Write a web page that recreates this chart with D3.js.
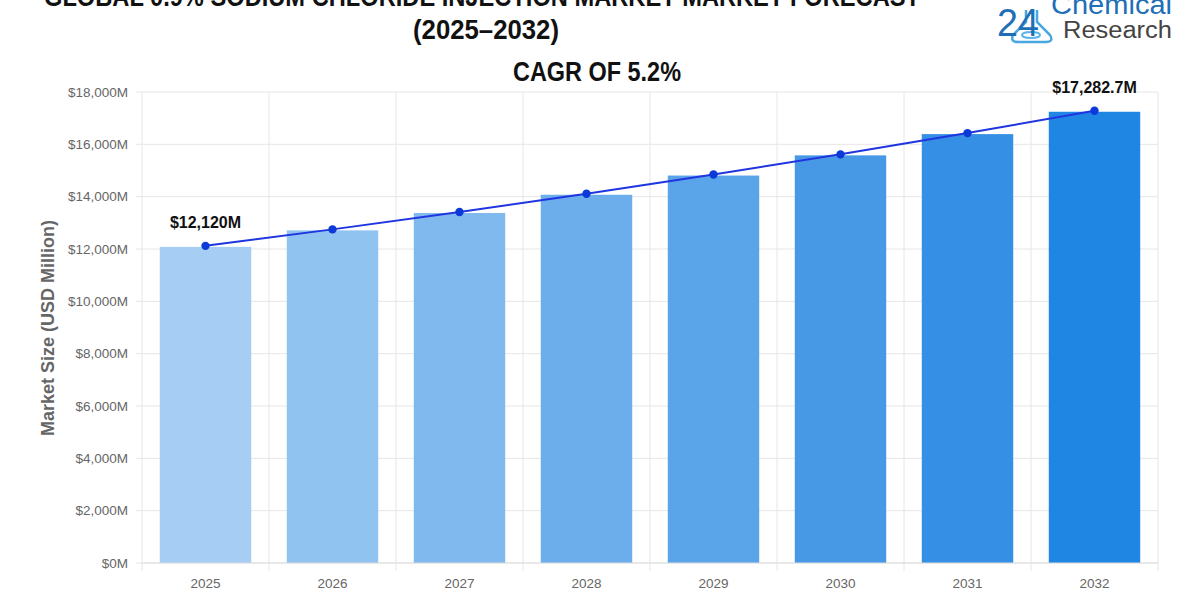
<!DOCTYPE html>
<html><head><meta charset="utf-8">
<script src="https://cdn.jsdelivr.net/npm/d3@7"></script>
<style>
body{margin:0;background:#fff;}
svg{display:block;font-family:"Liberation Sans",Arial,sans-serif;}
</style></head>
<body><svg id="c" width="1200" height="600"></svg>
<script>
const years = ["2025","2026","2027","2028","2029","2030","2031","2032"];
const values = [12120, 12750, 13413, 14111, 14845, 15617, 16429, 17282.7];
const barColors = ["#a6cef4","#91c3f1","#7fb9ee","#6caeeb","#5aa4e9","#4799e6","#358fe4","#1f86e4"];
const yTicks = [0,2000,4000,6000,8000,10000,12000,14000,16000,18000];
const labels = [{i:0,text:"$12,120M"},{i:7,text:"$17,282.7M"}];
const titleLines = ["GLOBAL 0.9% SODIUM CHLORIDE INJECTION MARKET MARKET FORECAST","(2025\u20132032)"];
const subtitle = "CAGR OF 5.2%";
const yLabel = "Market Size (USD Million)";

const svg = d3.select("#c");
const L=142,R=1158,T=92,B=563;
const x = d3.scaleBand().domain(years).range([L,R]).padding(0);
const y = d3.scaleLinear().domain([0,18000]).range([B,T]);

function title(txt, cx, by, w){
  svg.append("text").attr("x",cx-w/2).attr("y",by)
    .attr("font-size",27).attr("font-weight","bold").attr("fill","#111")
    .attr("textLength",w).attr("lengthAdjust","spacingAndGlyphs").text(txt);
}
title(titleLines[0],482,6,876);
title(titleLines[1],486,39,146);
title(subtitle,597,81,168);

// grid horizontal
svg.append("g").selectAll("line").data(yTicks).join("line")
  .attr("x1",L-6).attr("x2",R).attr("y1",d=>y(d)).attr("y2",d=>y(d))
  .attr("stroke","#e6e6e6").attr("stroke-width",1);
// grid vertical at band boundaries
const bounds = years.map(d=>x(d)).concat([R]);
svg.append("g").selectAll("line").data(bounds).join("line")
  .attr("x1",d=>d).attr("x2",d=>d).attr("y1",T).attr("y2",B+8)
  .attr("stroke","#e6e6e6").attr("stroke-width",1);

// y axis labels
const yAxis = d3.axisLeft(y).tickValues(yTicks).tickSize(0).tickPadding(0)
  .tickFormat(d=>"$"+d3.format(",")(d)+"M");
const ga = svg.append("g").attr("transform",`translate(${L-14},0)`).call(yAxis);
ga.select(".domain").remove();
ga.selectAll("text").attr("fill","#666").attr("font-size",13.5).attr("font-family","Liberation Sans, Arial, sans-serif");

// y label
svg.append("text").attr("transform","translate(54,328) rotate(-90)").attr("text-anchor","middle")
  .attr("font-size",18).attr("font-weight","bold").attr("fill","#666").text(yLabel);

// bars
const bw = x.bandwidth()*0.72;
svg.append("g").selectAll("rect").data(values).join("rect")
  .attr("x",(d,i)=>x(years[i])+(x.bandwidth()-bw)/2)
  .attr("y",d=>y(d)+1).attr("width",bw).attr("height",d=>B-y(d)-1)
  .attr("fill",(d,i)=>barColors[i]);

// axis baseline
svg.append("line").attr("x1",L).attr("x2",R).attr("y1",B).attr("y2",B).attr("stroke","#ddd");

// x axis labels
const xAxis = d3.axisBottom(x).tickSize(0).tickPadding(0);
const gx = svg.append("g").attr("transform",`translate(0,${B+25})`).call(xAxis);
gx.select(".domain").remove();
gx.selectAll("text").attr("fill","#666").attr("font-size",13.5).attr("dy",0).attr("font-family","Liberation Sans, Arial, sans-serif");

// line + dots
const cx = (d,i)=>x(years[i])+x.bandwidth()/2;
svg.append("path").datum(values)
  .attr("d",d3.line().x(cx).y(d=>y(d)))
  .attr("fill","none").attr("stroke","#1f35e0").attr("stroke-width",2);
svg.append("g").selectAll("circle").data(values).join("circle")
  .attr("cx",cx).attr("cy",d=>y(d)).attr("r",4.2).attr("fill","#0b3ad8");

// annotations
svg.append("g").selectAll("text").data(labels).join("text")
  .attr("x",d=>cx(values[d.i],d.i)).attr("y",d=>y(values[d.i])-18)
  .attr("text-anchor","middle").attr("font-size",16).attr("font-weight","bold").attr("fill","#111")
  .text(d=>d.text);

// logo
const lg = svg.append("g");
lg.append("path").attr("d","M1026,10 L1026,22 L1013,35 Q1010,42 1018,42 L1046,42 Q1054,42 1050,35 L1037,22 L1037,10")
  .attr("fill","none").attr("stroke","#4aa6e0").attr("stroke-width",2.5);
lg.append("ellipse").attr("cx",1031).attr("cy",35).attr("rx",9).attr("ry",3).attr("fill","none").attr("stroke","#5cb3e8").attr("stroke-width",2);
lg.append("text").attr("x",997).attr("y",36).attr("font-size",38).attr("fill","#1e6fb8")
  .attr("textLength",42).attr("lengthAdjust","spacingAndGlyphs")
  .attr("font-family","Liberation Sans, Arial, sans-serif").text("24");
lg.append("text").attr("x",1051).attr("y",14).attr("font-size",27).attr("fill","#1e6fb8")
  .attr("textLength",121).attr("lengthAdjust","spacingAndGlyphs")
  .attr("font-family","Liberation Sans, Arial, sans-serif").text("Chemical");
lg.append("text").attr("x",1063).attr("y",38).attr("font-size",23).attr("fill","#444")
  .attr("textLength",109).attr("lengthAdjust","spacingAndGlyphs")
  .attr("font-family","Liberation Sans, Arial, sans-serif").text("Research");
</script></body></html>
